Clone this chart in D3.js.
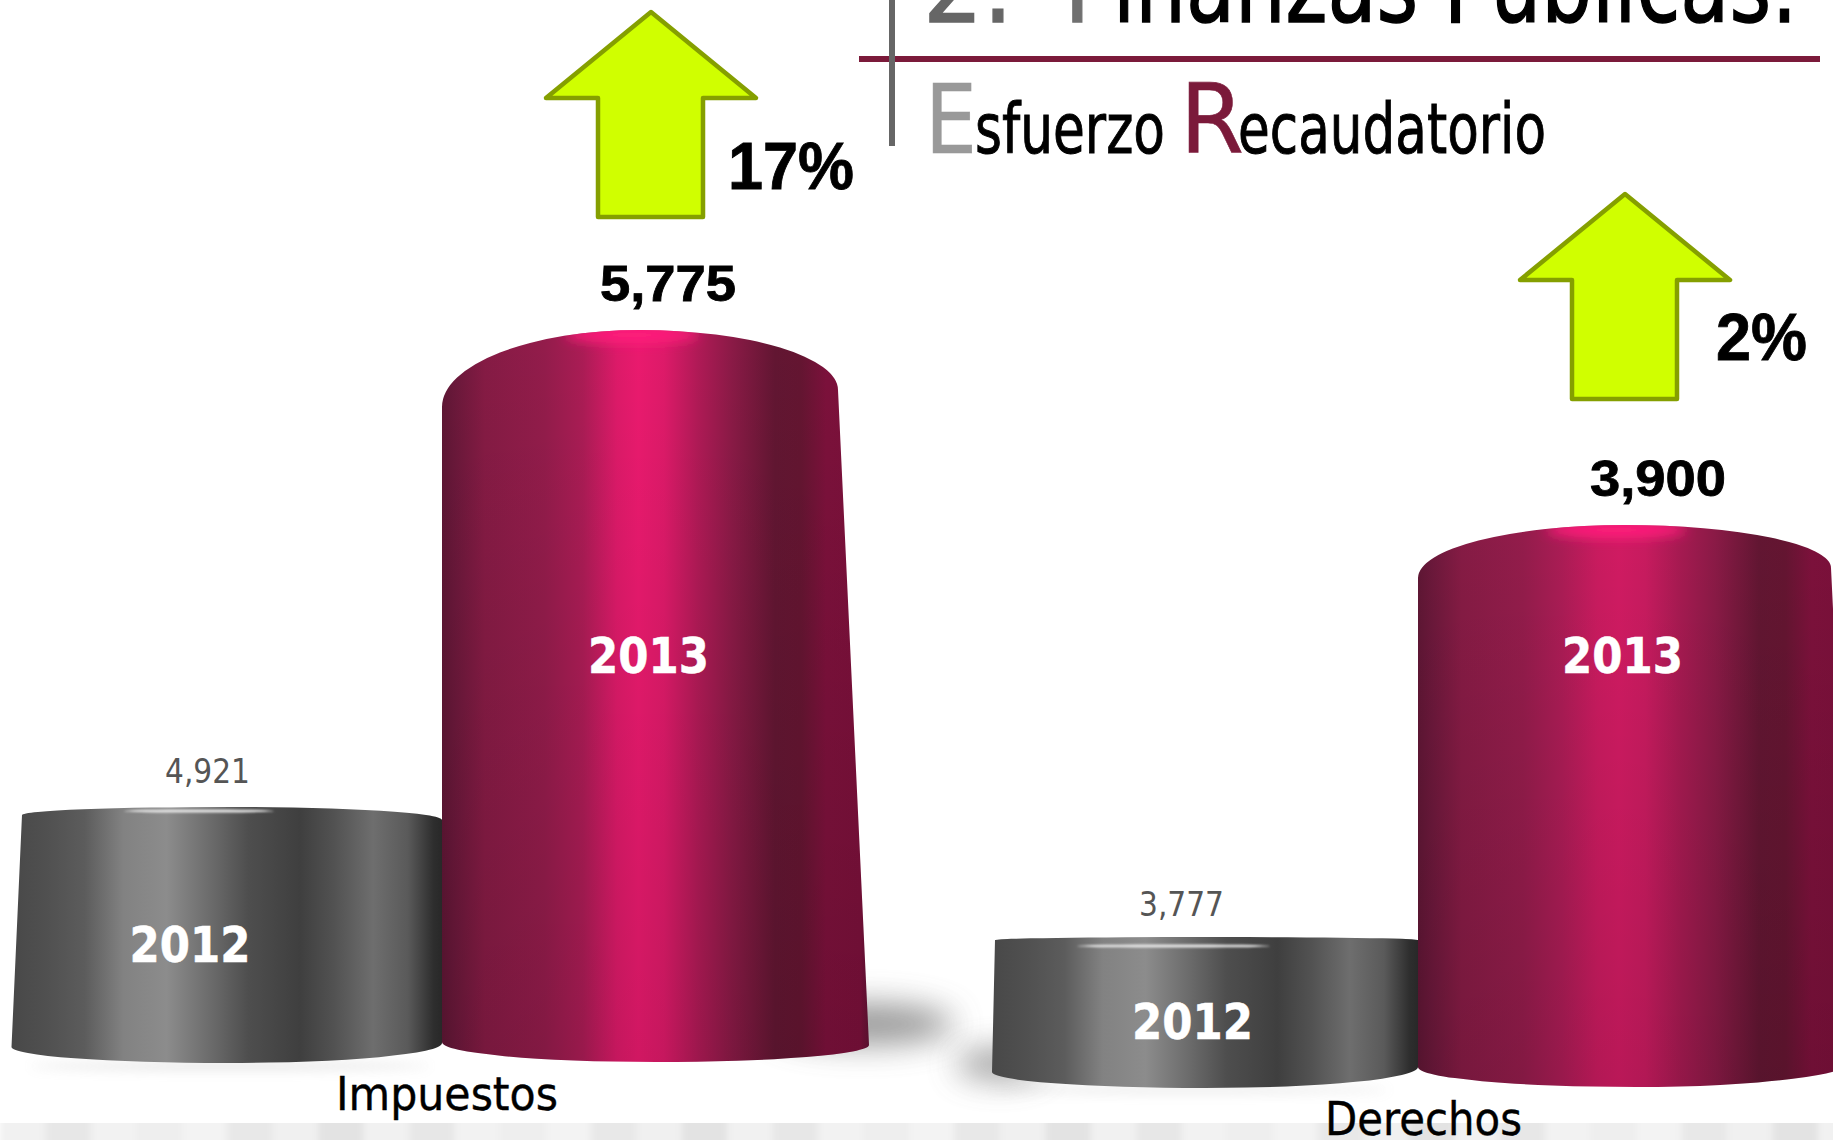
<!DOCTYPE html>
<html>
<head>
<meta charset="utf-8">
<script src="https://cdn.jsdelivr.net/npm/d3@7"></script>
<style>
html,body{margin:0;padding:0;background:#fff;overflow:hidden}
svg{display:block}
text{font-family:"DejaVu Sans",sans-serif}
</style>
</head>
<body>
<svg id="chart" width="1833" height="1140"></svg>
<script>
// ---- data ----
const categories = ["Impuestos", "Derechos"];
const years = ["2012", "2013"];
const values2012 = [4921, 3777];
const values2013 = [5775, 3900];
const growthLabels = ["17%", "2%"];
const titleParts = ["2.", "F", "inanzas Públicas:"];
const subtitleParts = ["E", "sfuerzo", "R", "ecaudatorio"];
const stripeShades = ["#f1f1f1", "#e7e7e7", "#f2f2f2", "#eeeeee", "#f3f3f3", "#e8e8e8", "#f0f0f0", "#e3e3e3"];

// ---- layout ----
const W = 1833, H = 1140;
const svg = d3.select("#chart");
const defs = svg.append("defs");

// the picture draws each year on its own vertical scale
const yTop = {
  "2012": d3.scaleLinear().domain([3777, 4921]).range([937, 807]),
  "2013": d3.scaleLinear().domain([3900, 5775]).range([525, 330])
};
const seam = d3.scaleOrdinal(categories, [442, 1418]);
const geom = {
  "Impuestos|2012": {w:420, taper:10.5, shL:8,  shR:13, yBL:1047, yBR:1043, yB:1063, labelX:207,  yearX:190,  yearY:962, hl:[124,274,811]},
  "Impuestos|2013": {w:396, taper:31,   shL:77, shR:60, yBL:1042, yBR:1045, yB:1062, labelX:668,  yearX:648.5,yearY:673, peak:"#ea1a6e"},
  "Derechos|2012":  {w:423, taper:3,    shL:3,  shR:3,  yBL:1072, yBR:1067, yB:1088, labelX:1181, yearX:1192.5,yearY:1039, hl:[1077,1270,946]},
  "Derechos|2013":  {w:413, taper:24,   shL:53, shR:43, yBL:1067, yBR:1060, yB:1087, labelX:1658, yearX:1622.5,yearY:673, peak:"#d01b62"}
};
const fmt = d3.format(",");
const seriesValues = {"2012": values2012, "2013": values2013};
const bars = categories.flatMap((c, i) => years.map(y => ({cat:c, year:y, value:seriesValues[y][i], g:geom[c + "|" + y]})));

// ---- filters ----
const blur = (id, sd) => defs.append("filter").attr("id", id)
  .attr("x","-50%").attr("y","-200%").attr("width","200%").attr("height","500%")
  .append("feGaussianBlur").attr("stdDeviation", sd);
blur("b1", 1); blur("b6", 6); blur("b16", 16);
defs.append("filter").attr("id","stripeBlur").attr("x","-5%").attr("width","110%")
  .append("feGaussianBlur").attr("stdDeviation","3 0");

// ---- gradients ----
function hGrad(id, stops){
  const g = defs.append("linearGradient").attr("id", id).attr("x1",0).attr("x2",1).attr("y1",0).attr("y2",0);
  stops.forEach(s => g.append("stop").attr("offset", s[0]).attr("stop-color", s[1]));
}
hGrad("gray", [[0,"#484848"],[.08,"#505050"],[.17,"#5c5c5c"],[.26,"#828282"],[.36,"#8c8c8c"],[.46,"#6c6c6c"],[.55,"#4e4e4e"],[.67,"#3f3f3f"],[.75,"#525252"],[.84,"#6e6e6e"],[.92,"#5a5a5a"],[.98,"#2e2e2e"],[1,"#282828"]]);
function pinkStops(p){ return [[0,"#5e1634"],[.03,"#6a183a"],[.1,"#851b44"],[.24,"#931c4b"],[.33,"#ab1c55"],[.41,d3.interpolateRgb("#ab1c55",p)(.8)],[.46,p],[.52,d3.interpolateRgb(p,"#8a1a46")(.12)],[.6,d3.interpolateRgb(p,"#8a1a46")(.6)],[.68,"#8a1a46"],[.78,"#621632"],[.84,"#641531"],[.9,"#7c113b"],[.98,"#7a103a"],[1,"#621234"]]; }
bars.filter(d => d.year === "2013").forEach((d,i) => hGrad("pink"+i, pinkStops(d.g.peak)));
const shade = defs.append("linearGradient").attr("id","vshade").attr("x1",0).attr("x2",0).attr("y1",0).attr("y2",1);
shade.append("stop").attr("offset",0).attr("stop-color","#000").attr("stop-opacity",0);
shade.append("stop").attr("offset",1).attr("stop-color","#000").attr("stop-opacity",.11);

// ---- background band ----
const stripeCount = 41;
const stripeX = d3.scaleBand().domain(d3.range(stripeCount)).range([0, stripeCount * 45.45]);
svg.append("g").attr("filter","url(#stripeBlur)").selectAll("rect").data(d3.range(stripeCount)).join("rect")
  .attr("x", d => stripeX(d)).attr("y", 1123).attr("width", stripeX.bandwidth()+1).attr("height", 17)
  .attr("fill", d => stripeShades[d % stripeShades.length]);

// ---- shadows ----
const shadowG = svg.append("g");
[[862,1024,92,20,"#666",.7,"b16"],[1000,1064,44,14,"#666",.7,"b16"],[230,1066,200,4,"#aaa",.3,"b6"],[1190,1090,200,3,"#aaa",.3,"b6"]]
  .forEach(s => shadowG.append("ellipse").attr("cx",s[0]).attr("cy",s[1]).attr("rx",s[2]).attr("ry",s[3])
    .attr("fill",s[4]).attr("opacity",s[5]).attr("filter","url(#"+s[6]+")"));

// ---- cylinders ----
function barPath(d){
  const g = d.g, apex = yTop[d.year](d.value), e = seam(d.cat);
  const left = d.year === "2012";
  const xL = left ? e - g.w : e, xR = left ? e : e + g.w;
  const xBL = left ? xL - g.taper : xL, xBR = left ? xR : xR + g.taper;
  const cx = (xL + xR) / 2, bx = (xBL + xBR) / 2;
  const rx = (xR - xL) / 2, brx = (xBR - xBL) / 2;
  d.cx = cx; d.apex = apex; d.w = xR - xL;
  return `M${xL},${apex+g.shL}A${rx},${g.shL} 0 0 1 ${cx},${apex}A${rx},${g.shR} 0 0 1 ${xR},${apex+g.shR}`
    + `L${xBR},${g.yBR}A${brx},${g.yB-g.yBR} 0 0 1 ${bx},${g.yB}A${brx},${g.yB-g.yBL} 0 0 1 ${xBL},${g.yBL}Z`;
}
let pinkIdx = 0;
const barG = svg.append("g").selectAll("g").data(bars).join("g");
barG.each(function(d, i){
  const g = d3.select(this), path = barPath(d);
  const fill = d.year === "2012" ? "url(#gray)" : "url(#pink" + (pinkIdx++) + ")";
  g.append("path").attr("d", path).attr("fill", fill);
  if (d.year === "2013") g.append("path").attr("d", path).attr("fill", "url(#vshade)");
  defs.append("clipPath").attr("id","clip"+i).append("path").attr("d", path);
  const hl = g.append("g").attr("clip-path","url(#clip"+i+")");
  if (d.year === "2013") {
    hl.append("ellipse").attr("cx", d.cx - 8).attr("cy", d.apex + 5).attr("rx", d.w * .17).attr("ry", 8)
      .attr("fill","#ff1f7c").attr("filter","url(#b6)");
  } else {
    hl.append("ellipse").attr("cx", (d.g.hl[0] + d.g.hl[1]) / 2).attr("cy", d.g.hl[2])
      .attr("rx", (d.g.hl[1] - d.g.hl[0]) / 2).attr("ry", 1.6)
      .attr("fill","#e6e6e6").attr("filter","url(#b1)");
  }
});

// ---- text helper ----
function txt(s, x, y, size, len, color, weight, family, stroke){
  const t = svg.append("text").attr("x", x).attr("y", y).attr("font-size", size).attr("fill", color)
    .attr("textLength", len).attr("lengthAdjust","spacingAndGlyphs").text(s);
  if (weight) t.attr("font-weight", weight);
  if (family) t.style("font-family", family);
  if (stroke) t.attr("stroke", color).attr("stroke-width", stroke);
  return t;
}

// ---- value and year labels ----
const labelBaseline = {"Impuestos|2012":783, "Impuestos|2013":301, "Derechos|2012":916, "Derechos|2013":496};
const sansBold = "'Liberation Sans',sans-serif";
bars.forEach(d => {
  const key = d.cat + "|" + d.year, s = fmt(d.value);
  if (d.year === "2012") txt(s, d.g.labelX - 42, labelBaseline[key], 34, 85, "#555");
  else txt(s, d.g.labelX - 68, labelBaseline[key], 50, 136, "#000", "bold", sansBold, .8);
  txt(d.year, d.g.yearX - 60.5, d.g.yearY, 50, 121, "#fff", "bold", null, .5);
});

// ---- category labels ----
const catX = d3.scaleOrdinal(categories, [336, 1325]);
const catY = d3.scaleOrdinal(categories, [1110, 1135]);
const catLen = d3.scaleOrdinal(categories, [222, 197]);
categories.forEach(c => txt(c, catX(c), catY(c), 46, catLen(c), "#000", null, null, .4));

// ---- growth arrows ----
const arrowX = d3.scaleOrdinal(categories, [651, 1625]);
const arrowY = d3.scaleOrdinal(categories, [12, 194]);
const arrowShape = d3.line();
categories.forEach((c, i) => {
  const x = arrowX(c), y = arrowY(c);
  svg.append("path")
    .attr("d", arrowShape([[x,y],[x+105,y+86],[x+52,y+86],[x+52,y+205],[x-53,y+205],[x-53,y+86],[x-105,y+86]]) + "Z")
    .attr("fill","#d0ff00").attr("stroke","#859f00").attr("stroke-width",4.5).attr("stroke-linejoin","round");
  txt(growthLabels[i], x + (i ? 91 : 77), y + (i ? 166 : 177), 66, i ? 91 : 126, "#000", "bold", sansBold, .8);
});

// ---- header ----
svg.append("rect").attr("x",859).attr("y",56).attr("width",961).attr("height",6).attr("fill","#7b1a3a");
svg.append("rect").attr("x",889).attr("y",0).attr("width",6).attr("height",146).attr("fill","#666");
txt(titleParts[0], 923, 22, 104, 90, "#666", null, null, 1.5);
txt(titleParts[1], 1064, 22, 104, 52, "#707070", null, null, 1.5);
txt(titleParts[2], 1113, 22, 104, 685, "#000", null, null, 1.5);
txt(subtitleParts[0], 925, 153, 96, 52, "#999", null, null, .6);
txt(subtitleParts[1], 975, 153, 70, 190, "#000", null, null, 1);
txt(subtitleParts[2], 1180, 153, 96, 64, "#7b1a3a", null, null, .6);
txt(subtitleParts[3], 1238, 153, 70, 308, "#000", null, null, 1);
</script>
</body>
</html>
